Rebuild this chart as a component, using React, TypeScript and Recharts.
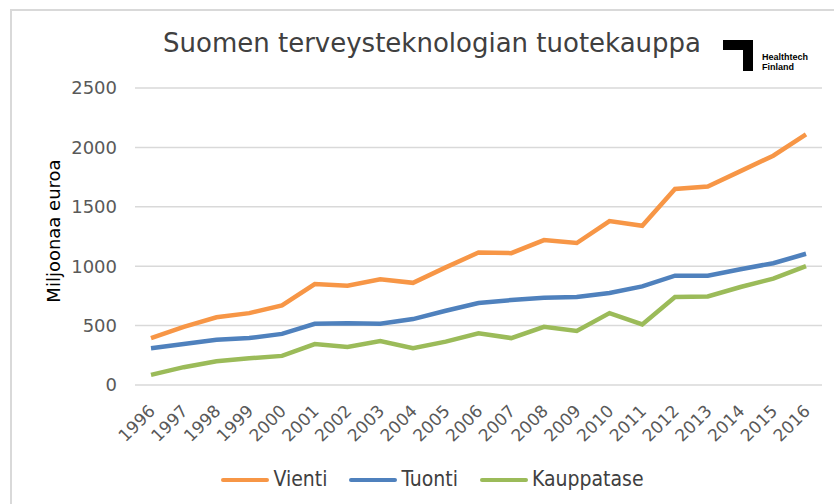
import { LineChart, Line, XAxis, YAxis, CartesianGrid } from 'recharts';

const years = [
  '1996', '1997', '1998', '1999', '2000', '2001', '2002', '2003', '2004', '2005', '2006',
  '2007', '2008', '2009', '2010', '2011', '2012', '2013', '2014', '2015', '2016',
];
const vienti = [395, 490, 570, 605, 670, 850, 835, 890, 860, 990, 1115, 1110, 1220, 1195, 1380, 1340, 1650, 1670, 1800, 1930, 2110];
const tuonti = [310, 345, 380, 395, 430, 515, 520, 515, 555, 625, 690, 715, 735, 740, 775, 830, 920, 920, 975, 1025, 1105];
const kauppatase = [85, 150, 200, 225, 245, 345, 320, 370, 310, 365, 435, 395, 490, 455, 605, 510, 740, 745, 825, 895, 1000];
const yTicks = [0, 500, 1000, 1500, 2000, 2500];

const series = [
  { key: 'vienti', name: 'Vienti', color: '#F79646' },
  { key: 'tuonti', name: 'Tuonti', color: '#4F81BD' },
  { key: 'kauppatase', name: 'Kauppatase', color: '#9BBB59' },
];

const data = years.map((year, i) => ({
  year,
  vienti: vienti[i],
  tuonti: tuonti[i],
  kauppatase: kauppatase[i],
}));

const font = '"DejaVu Sans", Verdana, sans-serif';

function YearTick({ x, y, payload }: any) {
  return (
    <g transform={`translate(${x + 1},${y + 15})`}>
      <text textAnchor="end" transform="rotate(-45)" dy="0.35em" fontSize={17} fill="#595959" fontFamily={font}>
        {payload.value}
      </text>
    </g>
  );
}

// legend drawn outside the chart so it doesn't shrink the plot area
function LegendBox() {
  return (
    <div style={{ position: 'absolute', left: 0, top: 467, width: 834, display: 'flex', justifyContent: 'center', gap: 22, paddingLeft: 31, boxSizing: 'border-box', fontFamily: '"DejaVu Sans Condensed", "DejaVu Sans", sans-serif', fontSize: 21, lineHeight: '25px', color: '#404040' }}>
      {series.map((s) => (
        <div key={s.key} style={{ display: 'flex', alignItems: 'center' }}>
          <span style={{ display: 'inline-block', width: 48, height: 4, borderRadius: 2, background: s.color, marginRight: 4 }} />
          {s.name}
        </div>
      ))}
    </div>
  );
}

export default function App() {
  return (
    <div style={{ position: 'absolute', left: 0, top: 0, width: 834, height: 504, overflow: 'hidden', background: '#fff' }}>
      <div style={{ position: 'absolute', left: 10, top: 9, width: 840, height: 520, border: '2px solid #d9d9d9' }} />
      <div style={{ position: 'absolute', left: 163, top: 28, fontFamily: font, fontSize: 26, color: '#404040', whiteSpace: 'nowrap' }}>
        Suomen terveysteknologian tuotekauppa
      </div>
      <div style={{ position: 'absolute', left: 723, top: 40, width: 30, height: 10, background: '#000' }} />
      <div style={{ position: 'absolute', left: 743, top: 40, width: 10, height: 31, background: '#000' }} />
      <div style={{ position: 'absolute', left: 762, top: 52, fontFamily: '"Liberation Sans", Arial, sans-serif', fontWeight: 'bold', fontSize: 9, lineHeight: '10px', color: '#000' }}>
        Healthtech
        <br />
        Finland
      </div>
      <div style={{ position: 'absolute', left: 53, top: 231, transform: 'translate(-50%, -50%) rotate(-90deg)', fontFamily: font, fontSize: 18, color: '#000', whiteSpace: 'nowrap' }}>
        Miljoonaa euroa
      </div>
      <div style={{ position: 'absolute', left: 0, top: 0 }}>
        <LineChart width={834} height={504} data={data} margin={{ top: 88, right: 12, bottom: 89, left: 0 }}>
          <CartesianGrid vertical={false} stroke="#d9d9d9" strokeWidth={1.5} />
          <XAxis dataKey="year" height={30} padding={{ left: 16, right: 16 }} axisLine={false} tickLine={false} interval={0} tick={<YearTick />} />
          <YAxis width={135} domain={[0, 2500]} ticks={yTicks} axisLine={false} tickLine={false} tickMargin={12} tick={{ fontSize: 18, fill: '#595959', fontFamily: font }} />
          {series.map((s) => (
            <Line key={s.key} type="linear" dataKey={s.key} name={s.name} stroke={s.color} strokeWidth={4.5} dot={false} isAnimationActive={false} />
          ))}
        </LineChart>
      </div>
      <LegendBox />
    </div>
  );
}
